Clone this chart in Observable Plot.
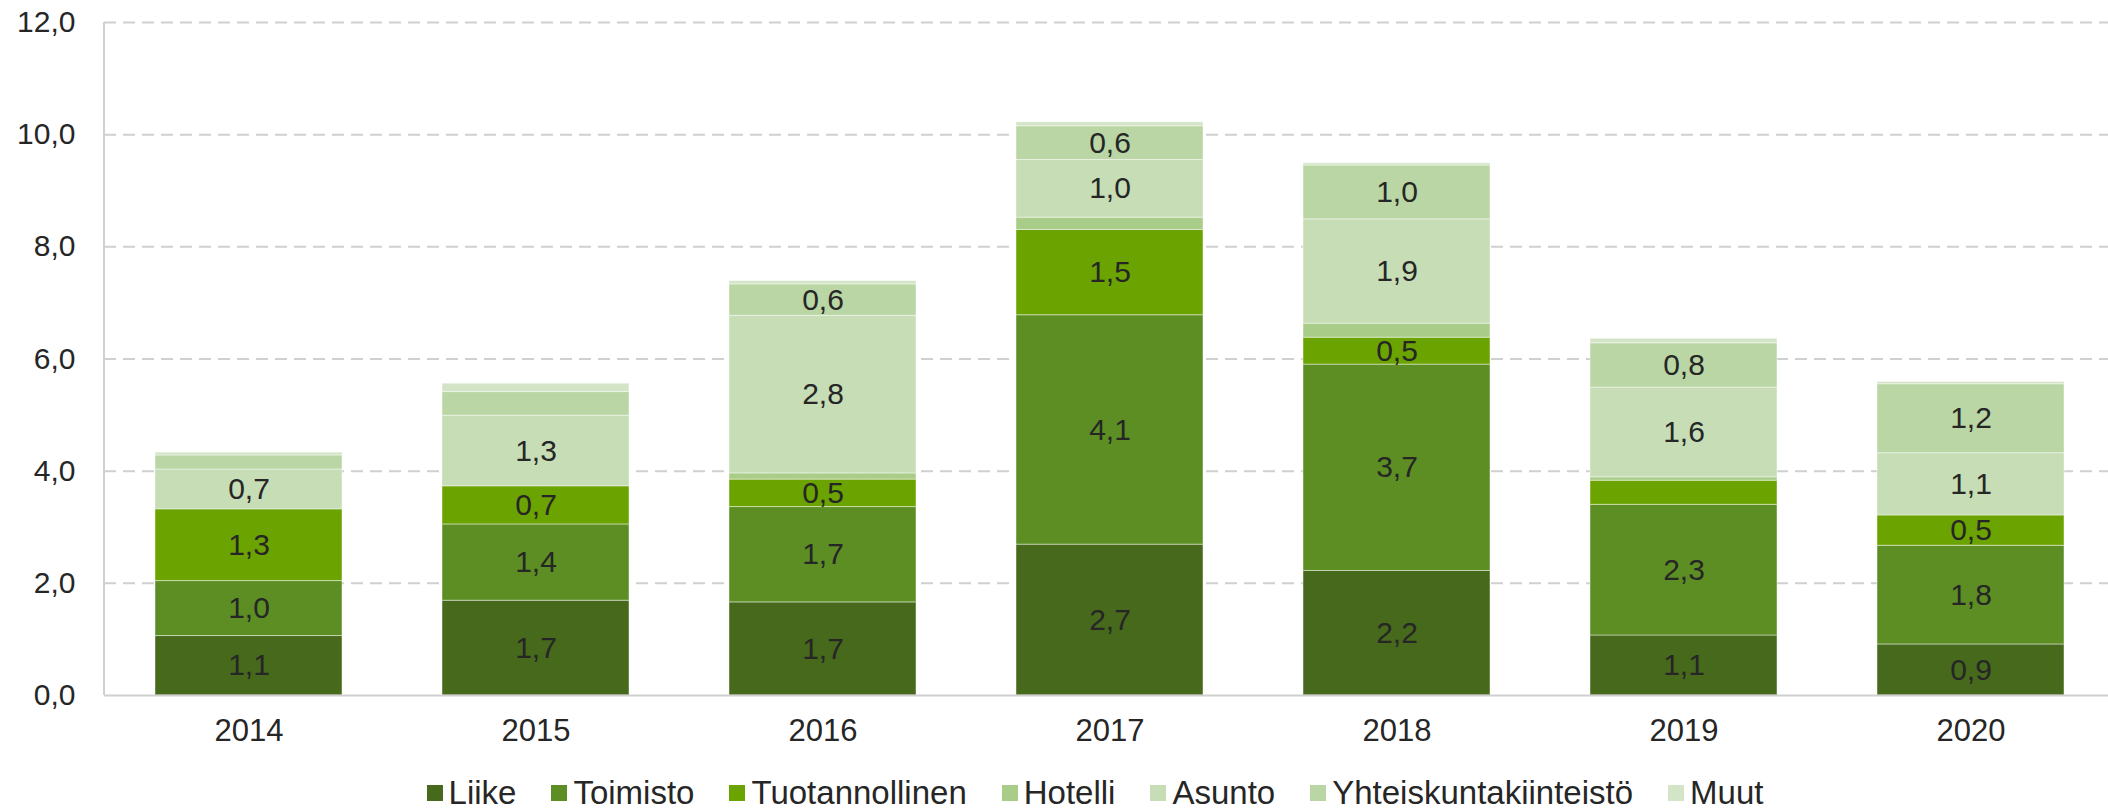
<!DOCTYPE html>
<html>
<head>
<meta charset="utf-8">
<script src="https://cdn.jsdelivr.net/npm/d3@7"></script>
<script src="https://cdn.jsdelivr.net/npm/@observablehq/plot@0.6"></script>
<style>
  body { margin: 0; background: #fff; font-family: Arial, "Liberation Sans", sans-serif; }
  #legend { display: flex; justify-content: center; align-items: center; padding-left: 82px; height: 46px; font-size: 33px; color: #262626; }
  #legend .item { display: flex; align-items: center; margin: 0 17.5px; }
  #legend .sw { width: 16px; height: 16px; margin-right: 6px; }
</style>
</head>
<body>
<div id="chart"></div>
<div id="legend"></div>
<script>
const years = ["2014", "2015", "2016", "2017", "2018", "2019", "2020"];
const categories = ["Liike", "Toimisto", "Tuotannollinen", "Hotelli", "Asunto", "Yhteiskuntakiinteistö", "Muut"];
const colors = ["#46691b", "#5c8e23", "#6ba300", "#a9cc89", "#c6ddb6", "#b9d6a4", "#d3e5c6"];
const liike          = [1.06, 1.69, 1.66, 2.69, 2.22, 1.07, 0.91];
const toimisto       = [0.98, 1.36, 1.70, 4.09, 3.68, 2.33, 1.76];
const tuotannollinen = [1.28, 0.68, 0.49, 1.52, 0.48, 0.43, 0.54];
const hotelli        = [0.00, 0.00, 0.11, 0.22, 0.25, 0.06, 0.00];
const asunto         = [0.71, 1.26, 2.81, 1.03, 1.86, 1.60, 1.11];
const yhteiskunta    = [0.25, 0.42, 0.56, 0.60, 0.96, 0.79, 1.23];
const muut           = [0.05, 0.15, 0.06, 0.07, 0.04, 0.08, 0.04];
const yTicks = [0, 2, 4, 6, 8, 10, 12];

const series = [liike, toimisto, tuotannollinen, hotelli, asunto, yhteiskunta, muut];
const data = [];
categories.forEach((c, i) => years.forEach((y, j) => data.push({year: y, cat: c, value: series[i][j]})));

const fmt = v => v.toFixed(1).replace(".", ",");
const W = 2108, H = 770;

const yAxisLine = (index, scales, values, dims) => {
  const g = d3.create("svg:line")
    .attr("x1", dims.marginLeft).attr("x2", dims.marginLeft)
    .attr("y1", dims.marginTop).attr("y2", dims.height - dims.marginBottom)
    .attr("stroke", "#d0d0d0").attr("stroke-width", 2);
  return g.node();
};

const chart = Plot.plot({
  width: W,
  height: H,
  marginLeft: 104,
  marginRight: 0,
  marginTop: 22,
  marginBottom: H - 695,
  style: {fontSize: "30px", fontFamily: "Arial, 'Liberation Sans', sans-serif", color: "#262626", background: "#fff"},
  x: {domain: years, range: [104, 2115], paddingInner: 0.35, paddingOuter: 0.175, label: null},
  y: {domain: [0, 12], label: null},
  color: {domain: categories, range: colors},
  marks: [
    Plot.ruleY(yTicks.filter(d => d > 0), {stroke: "#d0d0d0", strokeWidth: 2, strokeDasharray: "12,7"}),
    Plot.barY(data, {x: "year", y: "value", z: "cat", fill: "cat", order: categories, stroke: "#ffffff", strokeWidth: 1, strokeOpacity: 0.45}),
    Plot.text(data, Plot.stackY({x: "year", y: "value", z: "cat", order: categories,
      text: d => (Math.round(d.value * 10) >= 5 ? fmt(d.value) : null),
      fill: "#262626", fontSize: 30})),
    Plot.ruleY([0], {stroke: "#d0d0d0", strokeWidth: 2}),
    yAxisLine,
    Plot.axisY({ticks: yTicks, tickSize: 0, tickPadding: 29, tickFormat: fmt, fontSize: 30, label: null}),
    Plot.axisX({tickSize: 0, tickPadding: 23, fontSize: 31, label: null})
  ]
});
document.getElementById("chart").appendChild(chart);

const legend = document.getElementById("legend");
categories.forEach((c, i) => {
  const it = document.createElement("div");
  it.className = "item";
  const sw = document.createElement("span");
  sw.className = "sw";
  sw.style.background = colors[i];
  const t = document.createElement("span");
  t.textContent = c;
  it.appendChild(sw); it.appendChild(t);
  legend.appendChild(it);
});
</script>
</body>
</html>
